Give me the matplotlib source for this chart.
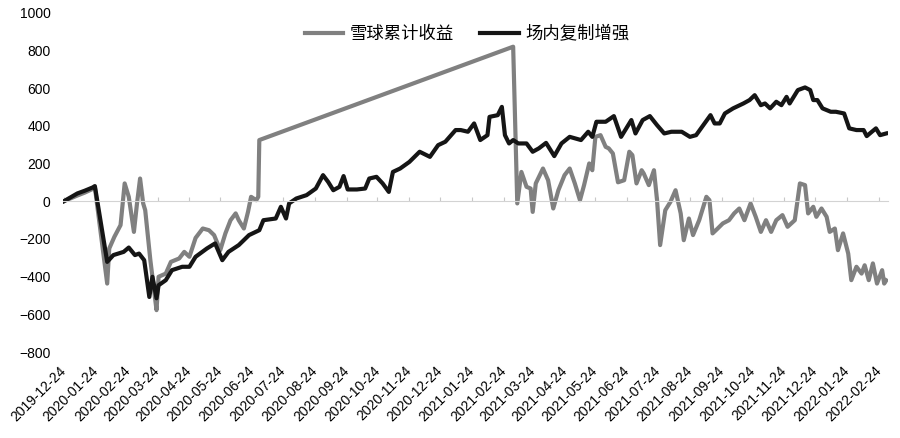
import pandas as pd
import matplotlib
matplotlib.use("Agg")
import matplotlib.pyplot as plt
import matplotlib.dates as mdates

plt.rcParams['font.family'] = ['Liberation Sans', 'Noto Sans CJK SC', 'DejaVu Sans']

# monthly tick labels on the x axis
tick_labels = [
    "2019-12-24", "2020-01-24", "2020-02-24", "2020-03-24", "2020-04-24",
    "2020-05-24", "2020-06-24", "2020-07-24", "2020-08-24", "2020-09-24",
    "2020-10-24", "2020-11-24", "2020-12-24", "2021-01-24", "2021-02-24",
    "2021-03-24", "2021-04-24", "2021-05-24", "2021-06-24", "2021-07-24",
    "2021-08-24", "2021-09-24", "2021-10-24", "2021-11-24", "2021-12-24",
    "2022-01-24", "2022-02-24",
]

# 雪球累计收益 (grey)
xueqiu_dates = [
    "2019-12-24", "2020-01-06", "2020-01-13", "2020-01-21", "2020-01-23",
    "2020-02-04", "2020-02-06", "2020-02-11", "2020-02-17", "2020-02-21",
    "2020-02-25", "2020-03-01", "2020-03-04", "2020-03-07", "2020-03-10",
    "2020-03-12", "2020-03-17", "2020-03-21", "2020-03-23", "2020-03-25",
    "2020-04-01", "2020-04-06", "2020-04-14", "2020-04-19", "2020-04-24",
    "2020-04-30", "2020-05-07", "2020-05-13", "2020-05-18", "2020-05-24",
    "2020-05-29", "2020-06-03", "2020-06-08", "2020-06-11", "2020-06-16",
    "2020-06-20", "2020-06-23", "2020-06-28", "2020-06-30", "2020-07-01",
    "2021-03-05", "2021-03-09", "2021-03-13", "2021-03-18", "2021-03-22",
    "2021-03-24", "2021-03-27", "2021-04-03", "2021-04-08", "2021-04-13",
    "2021-04-18", "2021-04-24", "2021-04-29", "2021-05-04", "2021-05-09",
    "2021-05-13", "2021-05-18", "2021-05-21", "2021-05-24", "2021-05-29",
    "2021-06-03", "2021-06-06", "2021-06-10", "2021-06-15", "2021-06-21",
    "2021-06-26", "2021-06-29", "2021-07-03", "2021-07-08", "2021-07-10",
    "2021-07-15", "2021-07-20", "2021-07-23", "2021-07-26", "2021-07-31",
    "2021-08-05", "2021-08-10", "2021-08-15", "2021-08-18", "2021-08-23",
    "2021-08-27", "2021-09-02", "2021-09-09", "2021-09-12", "2021-09-15",
    "2021-09-20", "2021-09-25", "2021-10-01", "2021-10-06", "2021-10-11",
    "2021-10-16", "2021-10-22", "2021-10-27", "2021-11-01", "2021-11-06",
    "2021-11-11", "2021-11-16", "2021-11-22", "2021-11-27", "2021-12-04",
    "2021-12-09", "2021-12-14", "2021-12-17", "2021-12-22", "2021-12-25",
    "2021-12-30", "2022-01-04", "2022-01-07", "2022-01-12", "2022-01-15",
    "2022-01-20", "2022-01-25", "2022-01-28", "2022-02-02", "2022-02-07",
    "2022-02-10", "2022-02-14", "2022-02-18", "2022-02-22", "2022-02-27",
    "2022-03-01", "2022-03-03",
]
xueqiu_vals = [
    0, 30, 45, 65, 75,
    -437, -251, -189, -127, 94,
    23, -163, -12, 120, -12,
    -48, -313, -490, -578, -401,
    -384, -322, -304, -269, -295,
    -195, -145, -154, -180, -260,
    -171, -101, -65, -101, -145,
    -57, 23, 5, 23, 324,
    819, -12, 155, 76, 67,
    -57, 94, 173, 111, -39,
    58, 138, 173, 94, 5,
    85, 200, 164, 341, 350,
    288, 280, 253, 100, 111,
    262, 244, 94, 164, 147,
    85, 164, 5, -233, -48,
    -4, 58, -65, -207, -92,
    -180, -101, 23, 5, -171,
    -145, -118, -101, -65, -39,
    -101, -12, -83, -163, -101,
    -163, -101, -74, -136, -101,
    94, 85, -65, -30, -83,
    -39, -83, -163, -145, -260,
    -171, -278, -419, -348, -384,
    -340, -419, -330, -437, -366,
    -437, -420,
]

# 场内复制增强 (black)
enhanced_dates = [
    "2019-12-24", "2020-01-06", "2020-01-13", "2020-01-21", "2020-01-23",
    "2020-02-04", "2020-02-10", "2020-02-20", "2020-02-25", "2020-03-02",
    "2020-03-06", "2020-03-11", "2020-03-16", "2020-03-19", "2020-03-23",
    "2020-03-25", "2020-04-01", "2020-04-07", "2020-04-17", "2020-04-24",
    "2020-04-30", "2020-05-11", "2020-05-19", "2020-05-26", "2020-06-01",
    "2020-06-11", "2020-06-21", "2020-07-01", "2020-07-05", "2020-07-17",
    "2020-07-22", "2020-07-27", "2020-07-30", "2020-08-06", "2020-08-16",
    "2020-08-25", "2020-09-01", "2020-09-06", "2020-09-11", "2020-09-17",
    "2020-09-21", "2020-09-25", "2020-10-04", "2020-10-12", "2020-10-16",
    "2020-10-23", "2020-10-29", "2020-11-04", "2020-11-08", "2020-11-15",
    "2020-11-24", "2020-12-04", "2020-12-14", "2020-12-22", "2020-12-29",
    "2021-01-08", "2021-01-13", "2021-01-20", "2021-01-26", "2021-02-01",
    "2021-02-08", "2021-02-10", "2021-02-18", "2021-02-22", "2021-02-25",
    "2021-03-01", "2021-03-05", "2021-03-10", "2021-03-18", "2021-03-24",
    "2021-03-30", "2021-04-06", "2021-04-14", "2021-04-21", "2021-04-29",
    "2021-05-10", "2021-05-17", "2021-05-21", "2021-05-25", "2021-06-03",
    "2021-06-11", "2021-06-18", "2021-06-28", "2021-07-02", "2021-07-09",
    "2021-07-16", "2021-07-23", "2021-07-30", "2021-08-06", "2021-08-16",
    "2021-08-24", "2021-08-30", "2021-09-06", "2021-09-13", "2021-09-17",
    "2021-09-22", "2021-09-27", "2021-10-05", "2021-10-15", "2021-10-21",
    "2021-10-26", "2021-11-01", "2021-11-05", "2021-11-10", "2021-11-16",
    "2021-11-21", "2021-11-26", "2021-11-29", "2021-12-07", "2021-12-14",
    "2021-12-19", "2021-12-22", "2021-12-26", "2021-12-31", "2022-01-08",
    "2022-01-13", "2022-01-21", "2022-01-26", "2022-02-02", "2022-02-09",
    "2022-02-12", "2022-02-17", "2022-02-21", "2022-02-25", "2022-03-03",
]
enhanced_vals = [
    0, 41, 55, 73, 80,
    -322, -286, -269, -246, -286,
    -278, -313, -508, -401, -515,
    -446, -419, -366, -348, -348,
    -295, -251, -224, -313, -269,
    -233, -180, -154, -101, -92,
    -30, -92, -12, 14, 32,
    67, 138, 102, 58, 76,
    133, 62, 62, 67, 120,
    129, 94, 49, 155, 173,
    208, 262, 235, 297, 315,
    377, 377, 368, 412, 324,
    350, 447, 456, 500, 350,
    306, 324, 306, 306, 262,
    280, 309, 239, 306, 341,
    324, 368, 341, 421, 421,
    451, 341, 430, 359, 430,
    451, 403, 359, 368, 368,
    341, 350, 403, 456, 412,
    412, 465, 492, 518, 536,
    562, 509, 518, 492, 527,
    509, 553, 518, 589, 603,
    589, 536, 536, 492, 474,
    474, 465, 386, 377, 377,
    345, 368, 386, 350, 359,
]

fig = plt.figure(figsize=(9, 4.38), dpi=100)
ax = fig.add_axes([0.07, 0.1963, 0.917, 0.775])

ax.plot(pd.to_datetime(xueqiu_dates), xueqiu_vals, color="#808080", lw=3.0,
        label="雪球累计收益", solid_joinstyle="round")
ax.plot(pd.to_datetime(enhanced_dates), enhanced_vals, color="#151515", lw=3.0,
        label="场内复制增强", solid_joinstyle="round")

ax.set_ylim(-800, 1000)
ax.set_yticks(range(-800, 1001, 200))
ax.set_xlim(pd.Timestamp("2019-12-23"), pd.Timestamp("2022-03-05"))

for side in ["top", "right", "left"]:
    ax.spines[side].set_visible(False)
# the visible axis line sits at zero, with small tick marks
ax.spines["bottom"].set_position(("data", 0))
ax.spines["bottom"].set_color("#d3d3d3")
tick_pos = pd.to_datetime(tick_labels)
ax.set_xticks(tick_pos)
ax.tick_params(axis="x", direction="in", length=3, color="#c8c8c8", labelbottom=False)
ax.tick_params(axis="y", length=0, pad=9, labelsize=10)

# date labels at the bottom of the plot area
sec = ax.secondary_xaxis("bottom")
sec.set_xticks(mdates.date2num(tick_pos), labels=tick_labels)
sec.tick_params(length=0, pad=12, labelsize=10)
sec.spines["bottom"].set_visible(False)
for lbl in sec.get_xticklabels():
    lbl.set_rotation(45)
    lbl.set_ha("right")
    lbl.set_va("center")
    lbl.set_rotation_mode("anchor")

ax.legend(loc="upper center", bbox_to_anchor=(0.49, 1.01), ncol=2, frameon=False,
          prop={"family": "Noto Sans CJK SC", "size": 12.5},
          handlelength=2.2, handletextpad=0.4, columnspacing=1.5)

fig.savefig("out.png", dpi=100)
